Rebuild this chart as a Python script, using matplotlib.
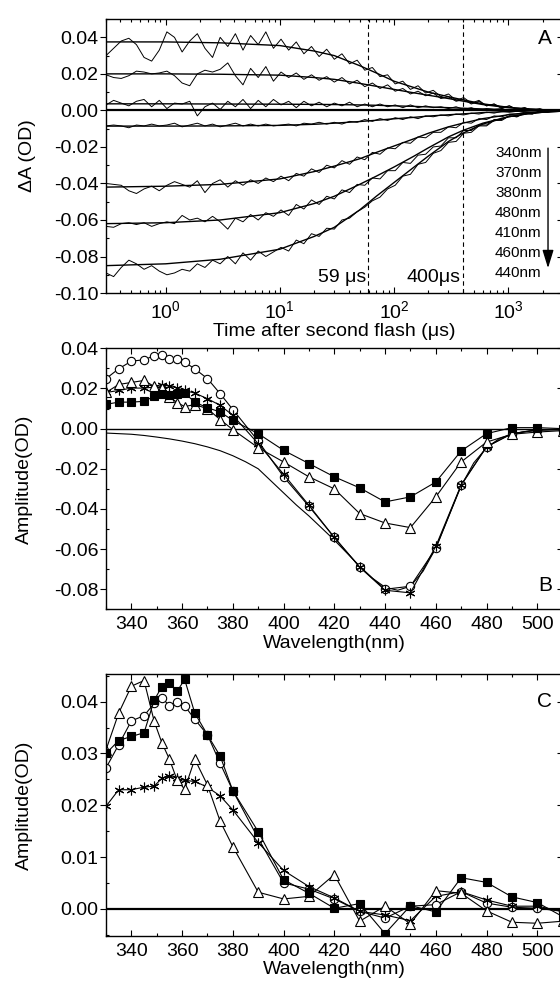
import matplotlib
matplotlib.use('Agg')
import matplotlib.pyplot as plt
from matplotlib.ticker import MultipleLocator, LogLocator, FuncFormatter, NullFormatter
import numpy as np

plt.rcParams['font.family'] = ['Liberation Sans', 'DejaVu Sans']
plt.rcParams['mathtext.fontset'] = 'custom'
plt.rcParams['mathtext.rm'] = 'Liberation Sans'
plt.rcParams['mathtext.it'] = 'Liberation Sans:italic'
plt.rcParams['axes.unicode_minus'] = False

# ---------------- panel A: kinetic traces (mOD) ----------------
t = np.geomspace(0.3, 3000, 61)   # sampling grid, us

trace_340 = [30, 34, 38, 39.5, 36, 29, 27, 33, 43, 40, 32, 38, 42, 34, 29, 40, 35, 42, 33, 41,
             36, 43, 34, 39, 33, 37.5, 31, 35, 29.5, 33.5, 28, 31, 25.5, 27.5, 22, 23.5, 18.5, 19.5, 14.5, 16,
             11.5, 13.5, 9.5, 11, 7.5, 9, 5.5, 7, 4, 5.5, 2.5, 3.5, 1, 2.5, 0.5, 1.5, 0, 1, -0.5, 0.5, 0]
trace_370 = [19.5, 18, 17.5, 19, 21.5, 21, 20, 20.5, 21.5, 19, 15, 13.5, 20, 22, 21, 22.5, 26, 19, 14, 23,
             18, 24, 16, 21, 18, 20.5, 17, 19.5, 16.5, 18.5, 15.5, 18, 14.5, 16.5, 13, 15, 12, 14, 10.5, 12,
             9, 10.5, 8, 9.5, 6.5, 7.5, 5, 6, 3.5, 5, 2.5, 3.5, 1.5, 2.5, 0.5, 1.5, 0, 0.5, -0.5, 0.5, 0]
trace_380 = [3, 5.5, 4, 2.5, 5, 6, 2, 5.5, 1, 4, 3.5, 5, -3, 2, 4, 0.5, 5, 2, 6, 1,
             5.5, 2, 6, 3, 5, 1.5, 5, 2.5, 4.5, 2, 4, 2.5, 4.5, 2, 3.5, 2, 3.5, 2, 3, 1.5,
             3, 1.5, 2.5, 1.5, 2, 1, 2, 0.5, 1.5, 0, 1, 0.5, 1, -0.5, 0.5, 0, 0.5, -0.5, 0.5, 0, 0]
trace_480 = [-8.5, -8, -8.5, -9.5, -8, -8.5, -7.5, -8.5, -8, -7, -9, -8, -7, -8.5, -7.5, -9, -8, -7, -8.5, -7.5,
             -8.5, -7.5, -8.5, -8, -7.5, -8.5, -7, -7.5, -6.5, -7.5, -6.5, -7.5, -6, -6.5, -5, -6, -4.5, -5.5, -4, -5,
             -3.5, -4.5, -3, -3.5, -2.5, -3, -2, -2.5, -1.5, -2, -1, -1.5, -0.5, -1, -0.5, -0.5, 0, 0, 0, 0, 0]
trace_410 = [-40, -40.5, -41, -44, -45.5, -43, -41.5, -44, -41, -39, -40.5, -42, -38.5, -45, -40, -38, -42, -38.5, -41, -38,
             -40, -37, -39, -36, -38.5, -34.5, -36, -32, -34, -30, -31.5, -27.5, -29.5, -25.5, -27, -23, -24, -20.5, -21, -17.5,
             -18, -14.5, -15, -12, -12, -9, -9.5, -6.5, -7, -4.5, -5, -3, -3.5, -2, -2, -1, -1.5, -0.5, -0.5, 0, 0]
trace_460 = [-63.5, -64, -62, -61.5, -62.5, -61.5, -63.5, -62, -61, -62, -57.5, -60, -59, -61, -58, -61, -65, -59, -61, -57,
             -60, -56, -58, -54.5, -57.5, -51.5, -54, -49, -51.5, -47, -48.5, -43.5, -45, -40.5, -41, -37, -37.5, -33, -33, -28.5,
             -29, -24.5, -24, -20, -19.5, -15, -15, -11, -11, -8, -8, -5, -5, -3, -3.5, -1.5, -2, -0.5, -1, 0, -0.5]
trace_440 = [-89, -91, -86, -82, -84, -87, -85, -88, -90, -89, -87, -88, -84, -86, -82, -84, -80, -84, -78, -82,
             -77, -80, -77.5, -75, -77, -71, -73, -67.5, -69, -64.5, -65, -60, -59, -55.5, -53, -49.5, -47.5, -43, -41, -36,
             -35, -29.5, -28.5, -23.5, -22, -17.5, -17, -12.5, -12, -8.5, -8.5, -5.5, -5.5, -3, -3.5, -1.5, -2, -0.5, -1, 0, -0.5]

t_fit = [0.3, 1, 3, 10, 20, 30, 50, 70, 100, 150, 200, 300, 400, 600, 1000, 1500, 2000, 3000]
fit_340 = [37.5, 37.5, 37, 35.5, 32.5, 30, 24.5, 20.5, 16, 12.5, 10, 7.5, 5.8, 3.6, 1.7, 0.8, 0.4, 0.2]
fit_370 = [20, 20, 19.8, 19.3, 18, 17, 14.8, 13.2, 11.5, 9.6, 8.3, 6.5, 5.1, 3.2, 1.5, 0.7, 0.4, 0.2]
fit_380 = [3.6, 3.6, 3.5, 3.4, 3.3, 3.2, 3, 2.8, 2.5, 2.2, 1.9, 1.5, 1.2, 0.8, 0.4, 0.2, 0.1, 0]
fit_480 = [-8.6, -8.6, -8.5, -8.2, -7.6, -7, -6.1, -5.4, -4.6, -3.8, -3.1, -2.4, -1.9, -1.2, -0.6, -0.3, -0.2, -0.1]
fit_410 = [-42, -41.5, -40.5, -37.5, -33.5, -30.5, -26.5, -23, -19.5, -15.5, -12.5, -9, -7, -4.5, -2.4, -1.2, -0.7, -0.3]
fit_460 = [-62, -61.5, -60, -56, -51, -47, -40.5, -36, -31, -25, -20.5, -14.5, -11, -7, -3.5, -1.8, -1, -0.4]
fit_440 = [-85, -84, -81.5, -76, -69, -64, -54.5, -47, -39.5, -31, -25, -17, -12.5, -7.5, -3.5, -1.8, -1, -0.4]

trace_labels = ['340nm', '370nm', '380nm', '480nm', '410nm', '460nm', '440nm']
lifetimes = [59, 400]

# ---------------- panels B and C: amplitude spectra (OD) ----------------
wl = [330, 335, 340, 345, 349, 352, 355, 358, 361, 365, 370, 375, 380, 390,
      400, 410, 420, 430, 440, 450, 460, 470, 480, 490, 500, 510]

B_square = [0.0121, 0.0132, 0.0132, 0.0136, 0.0161, 0.0171, 0.0166, 0.0171, 0.0177, 0.0132, 0.0104, 0.0083, 0.0041,
            -0.0025, -0.0108, -0.0174, -0.024, -0.0295, -0.0365, -0.034, -0.0266, -0.0111, -0.0025, 0.0005, 0.0005, 0.0]
B_circle = [0.0249, 0.0298, 0.0336, 0.0343, 0.0363, 0.0368, 0.0348, 0.0348, 0.0331, 0.0298, 0.0249, 0.0174, 0.0095,
            -0.0062, -0.024, -0.0387, -0.0542, -0.0689, -0.080, -0.0785, -0.0597, -0.0282, -0.0091, -0.0025, -0.0005, -0.0005]
B_triangle = [0.018, 0.022, 0.023, 0.024, 0.021, 0.020, 0.016, 0.013, 0.011, 0.012, 0.0099, 0.0045, -0.0005,
              -0.0095, -0.0166, -0.024, -0.030, -0.0423, -0.047, -0.0493, -0.034, -0.0166, -0.0067, -0.0028, -0.0017, -0.001]
B_star = [0.018, 0.019, 0.0202, 0.0202, 0.0207, 0.0216, 0.0213, 0.0202, 0.019, 0.0177, 0.0149, 0.0116, 0.0066,
          -0.0075, -0.0227, -0.0382, -0.0542, -0.069, -0.0805, -0.0818, -0.0586, -0.028, -0.009, -0.0025, -0.0008, -0.0005]

wl_fit = [330, 335, 340, 345, 350, 355, 360, 365, 370, 375, 380, 385, 390, 395, 400, 405, 410, 415, 420,
          425, 430, 435, 440, 445, 450, 455, 460, 465, 470, 475, 480, 485, 490, 495, 500, 505, 510]
B_fit = [-0.0022, -0.0025, -0.0028, -0.0034, -0.0042, -0.0051, -0.0062, -0.0075, -0.0091, -0.011, -0.0135,
         -0.0165, -0.020, -0.026, -0.032, -0.038, -0.0435, -0.0495, -0.0555, -0.062, -0.0685, -0.0745, -0.079,
         -0.0805, -0.0785, -0.071, -0.0595, -0.044, -0.0285, -0.017, -0.0095, -0.005, -0.0027, -0.0015, -0.0008,
         -0.0004, -0.0002]

C_square = [0.030, 0.0325, 0.0333, 0.034, 0.0403, 0.0429, 0.0436, 0.042, 0.0443, 0.0378, 0.0336, 0.0295, 0.0228,
            0.0149, 0.0056, 0.0030, 0.0001, 0.001, -0.0048, 0.0006, -0.0006, 0.006, 0.0051, 0.0023, 0.0012, -0.0015]
C_circle = [0.0272, 0.0317, 0.0363, 0.0373, 0.0397, 0.0408, 0.0392, 0.040, 0.0392, 0.0366, 0.0336, 0.0281, 0.0228,
            0.0136, 0.005, 0.0038, 0.0019, -0.0005, -0.0018, 0.0005, 0.0008, 0.0033, 0.0011, 0.0003, 0.0001, -0.0005]
C_triangle = [0.0307, 0.0378, 0.043, 0.0441, 0.0362, 0.0321, 0.0289, 0.0249, 0.0231, 0.0289, 0.0239, 0.0169, 0.012,
              0.0032, 0.0019, 0.0024, 0.0066, -0.0024, 0.0005, -0.0029, 0.0035, 0.003, -0.0004, -0.0026, -0.0028, -0.0024]
C_star = [0.0198, 0.023, 0.023, 0.0235, 0.0237, 0.0252, 0.0257, 0.0252, 0.0248, 0.0246, 0.0235, 0.0218, 0.0191,
          0.0128, 0.0074, 0.0043, 0.0021, -0.0005, -0.0012, -0.0023, 0.0024, 0.0033, 0.0017, 0.0005, 0.0005, -0.0005]

FS = 14


def fmt2(v, pos):
    if abs(v) < 1e-9:
        v = 0.0
    return '%.2f' % v


def style_axes(ax, ymaj, ymin, ylabel, label_x):
    for s in ax.spines.values():
        s.set_linewidth(1.0)
    ax.yaxis.set_major_locator(MultipleLocator(ymaj))
    ax.yaxis.set_minor_locator(MultipleLocator(ymin))
    ax.yaxis.set_major_formatter(FuncFormatter(fmt2))
    ax.tick_params(axis='x', which='both', direction='in', top=True, bottom=True,
                   labelsize=FS, pad=5)
    ax.tick_params(axis='y', which='major', direction='out', left=True, right=False,
                   labelsize=FS, pad=1.5)
    ax.tick_params(axis='y', which='minor', direction='in', left=True, right=False)
    ax.tick_params(which='major', length=4, width=0.8)
    ax.tick_params(which='minor', length=2.5, width=0.8)
    # right-hand ticks point inwards
    sec = ax.secondary_yaxis('right')
    sec.yaxis.set_major_locator(MultipleLocator(ymaj))
    sec.yaxis.set_minor_locator(MultipleLocator(ymin))
    sec.yaxis.set_major_formatter(NullFormatter())
    sec.tick_params(which='both', direction='in', width=0.8)
    sec.tick_params(which='major', length=4)
    sec.tick_params(which='minor', length=2.5)
    ax.set_ylabel(ylabel, fontsize=FS)
    ax.yaxis.set_label_coords(label_x, 0.5)


fig = plt.figure(figsize=(5.6, 9.89), dpi=100)
axA = fig.add_axes([0.1893, 0.7037, 0.8154, 0.2770])
axB = fig.add_axes([0.1893, 0.3839, 0.8154, 0.2639])
axC = fig.add_axes([0.1893, 0.0539, 0.8154, 0.2643])

# ---- A ----
axA.set_xscale('log')
axA.axhline(0, color='k', lw=1.6, zorder=1)
traces = [trace_340, trace_370, trace_380, trace_480, trace_410, trace_460, trace_440]
fits = [fit_340, fit_370, fit_380, fit_480, fit_410, fit_460, fit_440]
for tr in traces:
    axA.plot(t, np.array(tr) * 1e-3, color='k', lw=0.7, zorder=2)
for ft in fits:
    axA.plot(t_fit, np.array(ft) * 1e-3, color='k', lw=1.0, zorder=3)
for tau in lifetimes:
    axA.axvline(tau, color='k', lw=0.8, ls=(0, (4, 3)))
axA.text(57, -0.0915, '59 μs', fontsize=FS, ha='right', va='center')
axA.text(385, -0.0915, '400μs', fontsize=FS, ha='right', va='center')
axA.text(0.977, 0.93, 'A', transform=axA.transAxes, fontsize=15, ha='right', va='center')
for k, lab in enumerate(trace_labels):
    axA.text(0.852, 0.511 - k * 0.073, lab, transform=axA.transAxes,
             fontsize=11, ha='left', va='center')
axA.annotate('', xy=(0.968, 0.091), xytext=(0.968, 0.529), xycoords='axes fraction',
             arrowprops=dict(arrowstyle='-|>,head_length=0.55,head_width=0.17',
                             color='k', lw=1.0, mutation_scale=20, shrinkA=0, shrinkB=0))
axA.set_xlim(0.3, 3000)
axA.set_ylim(-0.10, 0.05)
axA.xaxis.set_major_locator(LogLocator(base=10))
axA.xaxis.set_minor_locator(LogLocator(base=10, subs=range(2, 10)))
axA.xaxis.set_minor_formatter(NullFormatter())
style_axes(axA, 0.02, 0.01, 'ΔA (OD)', -0.153)
axA.set_xlabel('Time after second flash (μs)', fontsize=FS, labelpad=1)

# ---- B ----
mk = dict(color='k', lw=0.8, mec='k', mew=0.8)
axB.axhline(0, color='k', lw=1.0, zorder=1)
axB.plot(wl_fit, B_fit, color='k', lw=0.8)
axB.plot(wl, B_circle, marker='o', ms=6, mfc='white', **mk)
axB.plot(wl, B_star, marker=(6, 2, 0), ms=7, **mk)
axB.plot(wl, B_triangle, marker='^', ms=7.5, mfc='white', **mk)
axB.plot(wl, B_square, marker='s', ms=6, mfc='k', **mk)
axB.text(0.977, 0.093, 'B', transform=axB.transAxes, fontsize=15, ha='right', va='center')
axB.set_xlim(330, 510)
axB.set_ylim(-0.09, 0.04)
axB.xaxis.set_major_locator(MultipleLocator(20))
axB.xaxis.set_minor_locator(MultipleLocator(10))
style_axes(axB, 0.02, 0.01, 'Amplitude(OD)', -0.16)
axB.set_xlabel('Wavelength(nm)', fontsize=FS, labelpad=1)

# ---- C ----
axC.axhline(0, color='k', lw=1.6, zorder=1)
axC.plot(wl, C_circle, marker='o', ms=6, mfc='white', **mk)
axC.plot(wl, C_star, marker=(6, 2, 0), ms=7, **mk)
axC.plot(wl, C_triangle, marker='^', ms=7.5, mfc='white', **mk)
axC.plot(wl, C_square, marker='s', ms=6, mfc='k', **mk)
axC.text(0.977, 0.897, 'C', transform=axC.transAxes, fontsize=15, ha='right', va='center')
axC.set_xlim(330, 510)
axC.set_ylim(-0.0052, 0.0453)
axC.xaxis.set_major_locator(MultipleLocator(20))
axC.xaxis.set_minor_locator(MultipleLocator(10))
style_axes(axC, 0.01, 0.005, 'Amplitude(OD)', -0.16)
axC.set_xlabel('Wavelength(nm)', fontsize=FS, labelpad=1)

fig.savefig('out.png', dpi=100)
